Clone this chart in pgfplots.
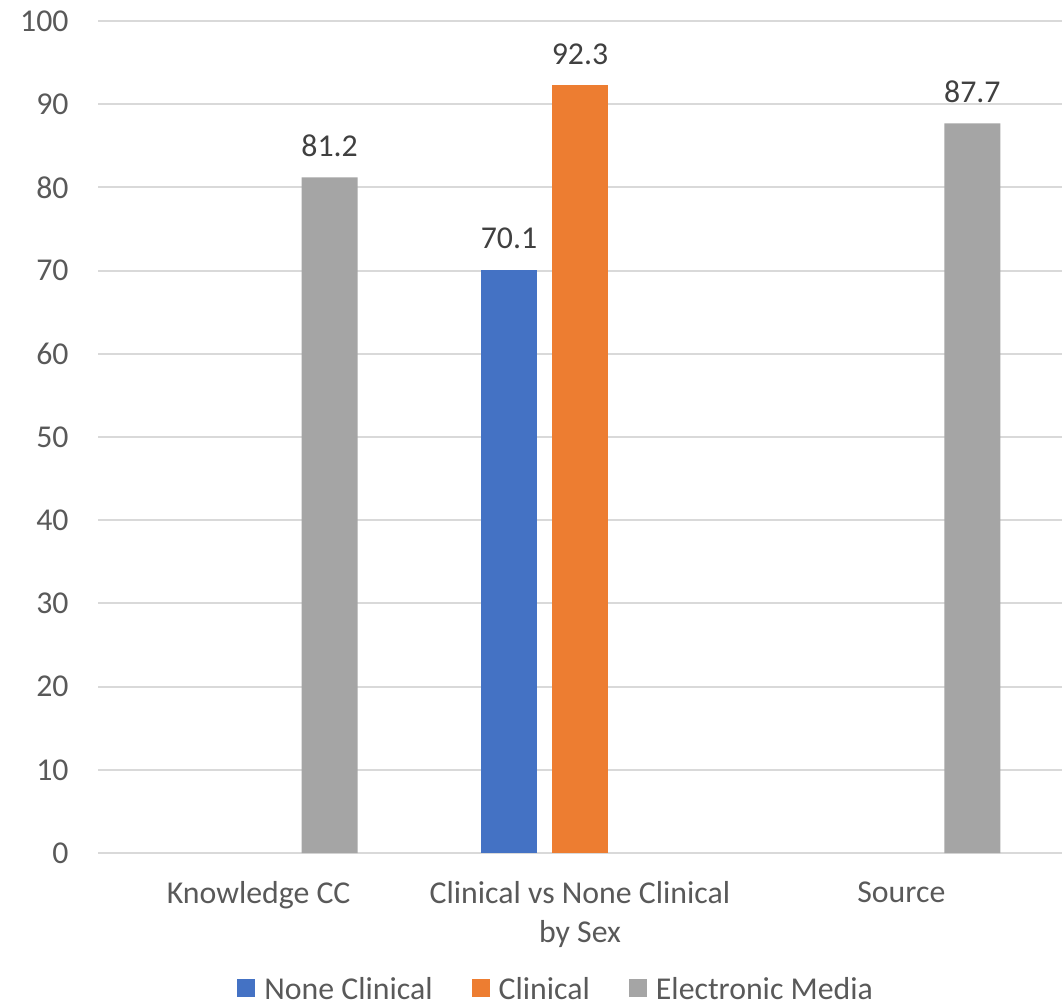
\documentclass[border=0pt]{standalone}
\usepackage{pgfplots}
\pgfplotsset{compat=1.18}
\usepackage{fontspec}
\setmainfont{Carlito}
\definecolor{cblue}{HTML}{4472C4}
\definecolor{corange}{HTML}{ED7D31}
\definecolor{cgray}{HTML}{A5A5A5}
\definecolor{tickc}{HTML}{595959}
\definecolor{lblc}{HTML}{404040}
\definecolor{gridc}{HTML}{D9D9D9}
\newcommand{\cf}{\fontsize{15.9}{19.5}\selectfont}
\begin{document}
\begin{tikzpicture}
\path[use as bounding box] (0,0) rectangle (532pt,503.5pt);
\begin{axis}[
  at={(49pt,77pt)}, anchor=south west,
  scale only axis, width=482pt, height=416pt,
  ymin=0, ymax=100, ytick={0,10,...,100},
  xmin=-0.5, xmax=2.5, xtick={0,1,2},
  xticklabels={Knowledge CC, {Clinical vs None Clinical\\by Sex}, Source},
  axis line style={draw=none},
  major tick length=0pt,
  ymajorgrids=true, xmajorgrids=false,
  major grid style={draw=gridc, line width=1pt},
  /pgf/number format/assume math mode=true,
  yticklabel style={font=\cf, text=tickc, anchor=east, inner sep=0pt, xshift=-14.5pt},
  xticklabel style={font=\cf, text=tickc, align=center, anchor=north, inner sep=0pt, yshift=-14pt},
  ybar=7.5pt, bar width=28pt,
  nodes near coords,
  every node near coord/.append style={font=\cf, text=lblc, anchor=base, inner sep=0pt, yshift=10.5pt},
  legend columns=-1,
  legend style={at={(0.1442,-0.165)}, anchor=west, draw=none, fill=none, inner sep=0pt,
    font=\cf, text=tickc,
    nodes={inner sep=0pt},
    /tikz/every odd column/.append style={column sep=4.5pt},
    /tikz/every even column/.append style={column sep=19.5pt}},
  legend image code/.code={\fill[#1] (0pt,-3.5pt) rectangle (9pt,5.5pt);},
]
\addplot[fill=cblue, draw=none] coordinates {(1,70.1)};
\addplot[fill=corange, draw=none] coordinates {(1,92.3)};
\addplot[fill=cgray, draw=none] coordinates {(0,81.2) (2,87.7)};
\legend{None Clinical, Clinical, Electronic Media}
\end{axis}
\end{tikzpicture}
\end{document}
